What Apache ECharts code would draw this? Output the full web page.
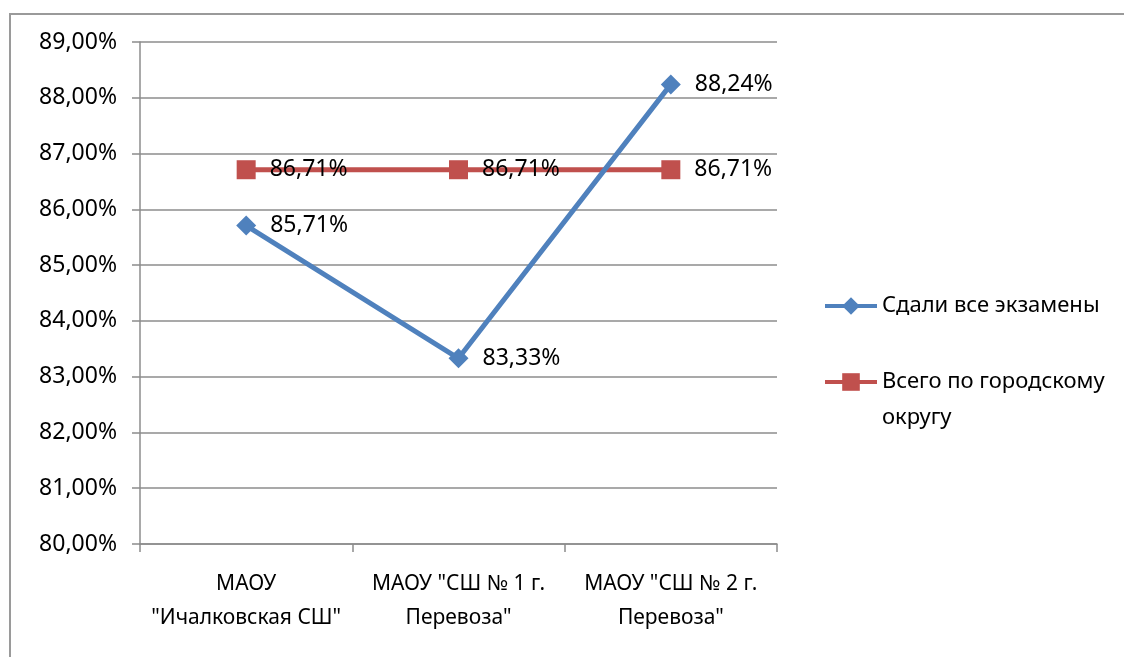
<!DOCTYPE html>
<html>
<head>
<meta charset="utf-8">
<script src="https://cdn.jsdelivr.net/npm/echarts@6/dist/echarts.min.js"></script>
<style>
  html, body { margin: 0; padding: 0; background: #fff; }
  #chart { width: 1124px; height: 657px; }
</style>
</head>
<body>
<div id="chart"></div>
<script>
const categories = ['МАОУ\n"Ичалковская СШ"', 'МАОУ "СШ № 1 г.\nПеревоза"', 'МАОУ "СШ № 2 г.\nПеревоза"']
const passedAll = [85.71, 83.33, 88.24]
const cityTotal = [86.71, 86.71, 86.71]
const seriesNames = ['Сдали все экзамены', 'Всего по городскому округу']

const font = '"Noto Sans", "Open Sans", sans-serif'
const pct = (v) => v.toFixed(2).replace('.', ',') + '%'

const chart = echarts.init(document.getElementById('chart'), null, { renderer: 'canvas' })

const option = {
  animation: false,
  textStyle: { fontFamily: font },
  graphic: [
    {
      type: 'rect',
      shape: { x: 10, y: 14, width: 1200, height: 700 },
      style: { fill: 'none', stroke: '#9a9a9a', lineWidth: 2 },
      z: 0
    }
  ],
  grid: { left: 140, right: 347, top: 42, bottom: 113 },
  legend: {
    orient: 'vertical',
    left: 818,
    top: 283,
    itemWidth: 52,
    itemHeight: 22,
    itemGap: 4,
    lineStyle: { width: 4 },
    textStyle: { fontFamily: font, fontSize: 22, color: '#000', lineHeight: 36 },
    // leading empty line keeps the first text line level with the icon
    formatter: (name) => name === seriesNames[1] ? '\nВсего по городскому\nокругу' : name,
    data: seriesNames
  },
  xAxis: {
    type: 'category',
    data: categories,
    boundaryGap: true,
    axisLine: { lineStyle: { color: '#8c8c8c', width: 1.5 } },
    axisTick: { show: true, length: 8, lineStyle: { color: '#8c8c8c', width: 1.5 } },
    axisLabel: { color: '#000', fontSize: 21, lineHeight: 34, margin: 23, interval: 0, fontFamily: font }
  },
  yAxis: {
    type: 'value',
    min: 80,
    max: 89,
    interval: 1,
    axisLine: { show: true, lineStyle: { color: '#8c8c8c', width: 1.5 } },
    axisTick: { show: true, length: 8, lineStyle: { color: '#8c8c8c', width: 1.5 } },
    axisLabel: { color: '#000', fontSize: 23, margin: 23, formatter: pct, fontFamily: font },
    splitLine: { lineStyle: { color: '#8c8c8c', width: 1.5 } }
  },
  series: [
    {
      name: seriesNames[0],
      type: 'line',
      data: passedAll,
      z: 4,
      symbol: 'diamond',
      symbolSize: 20,
      itemStyle: { color: '#4F81BD' },
      lineStyle: { color: '#4F81BD', width: 5 },
      label: { show: true, position: 'right', distance: 14, color: '#000', fontSize: 23, formatter: (p) => pct(p.value), fontFamily: font }
    },
    {
      name: seriesNames[1],
      type: 'line',
      data: cityTotal,
      z: 3,
      symbol: 'rect',
      symbolSize: 19,
      itemStyle: { color: '#C0504D' },
      lineStyle: { color: '#C0504D', width: 5 },
      label: { show: true, position: 'right', distance: 14, color: '#000', fontSize: 23, formatter: (p) => pct(p.value), fontFamily: font }
    }
  ]
}

chart.setOption(option)
window.addEventListener('resize', chart.resize)
</script>
</body>
</html>
